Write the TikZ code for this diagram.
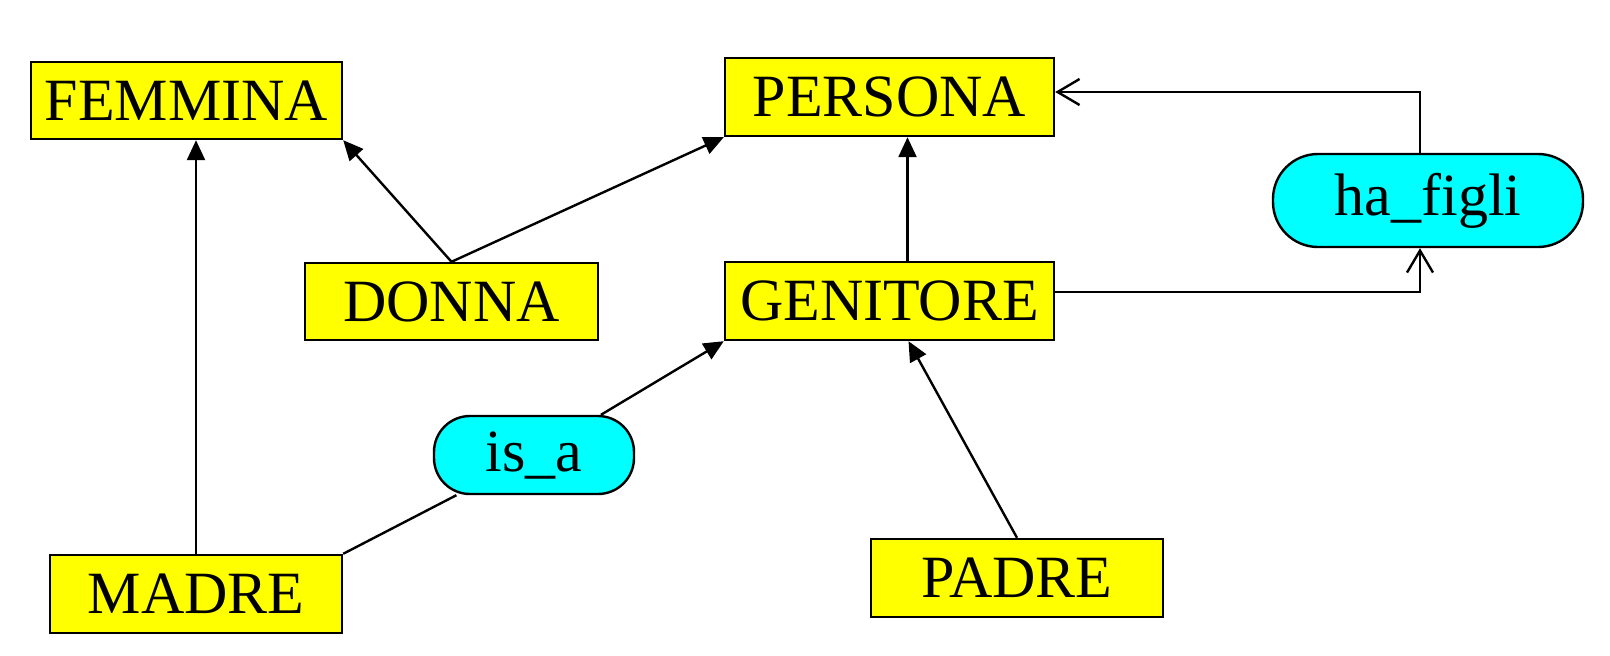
\documentclass[tikz,border=0pt]{standalone}
\usepackage{fontspec}
\setmainfont{Liberation Serif}
\usetikzlibrary{arrows.meta,calc}
\definecolor{boxyellow}{RGB}{255,255,0}
\definecolor{boxcyan}{RGB}{0,255,255}
\begin{document}
\begin{tikzpicture}[x=1pt,y=-1pt,
  concept/.style={draw=black,line width=2.4pt,fill=boxyellow,inner sep=0pt,
    font=\fontsize{60}{62}\selectfont},
  rel/.style={draw=black,line width=2.4pt,fill=boxcyan,inner sep=0pt,
    font=\fontsize{60}{62}\selectfont},
  isa/.style={line width=2.4pt,-{Triangle[width=18pt,length=20pt]}},
  conn/.style={line width=2.4pt,-{Straight Barb[width=26pt,length=22pt,line width=2.4pt]}},
  plain/.style={line width=2.4pt}]
\useasboundingbox (0,0) rectangle (1610,656);
\node[concept,minimum width=311pt,minimum height=77pt] (femmina) at (186.5,100.5) {FEMMINA};
\node[concept,minimum width=329pt,minimum height=78pt] (persona) at (889.5,97) {PERSONA};
\node[concept,minimum width=293pt,minimum height=77pt] (donna) at (451.5,301.5) {DONNA};
\node[concept,minimum width=329pt,minimum height=78pt] (genitore) at (889.5,301) {GENITORE};
\node[rel,minimum width=310pt,minimum height=93pt,rounded corners=45pt] (hafigli) at (1428,200.5) {ha\_figli};
\node[rel,minimum width=200pt,minimum height=78pt,rounded corners=36pt] (isa) at (534,455) {is\_a};
\node[concept,minimum width=292pt,minimum height=78pt] (madre) at (196,594) {MADRE};
\node[concept,minimum width=292pt,minimum height=78pt] (padre) at (1017,578) {PADRE};
\draw[isa] (madre.north) -- (madre.north |- femmina.south);
\draw[isa] (donna.north) -- (femmina.south east);
\draw[isa] (donna.north) -- (persona.south west);
\draw[isa] ([xshift=18pt]genitore.north) -- ([xshift=18pt]persona.south);
\draw[plain] (madre.north east) -- (isa);
\draw[isa] (isa) -- (genitore.south west);
\draw[isa] (padre.north) -- ([xshift=19pt]genitore.south);
\draw[conn] ([yshift=9pt]genitore.east) -| ([xshift=-8pt]hafigli.south);
\draw[conn] ([xshift=-8pt]hafigli.north) |- ([yshift=5pt]persona.east);
\end{tikzpicture}
\end{document}
